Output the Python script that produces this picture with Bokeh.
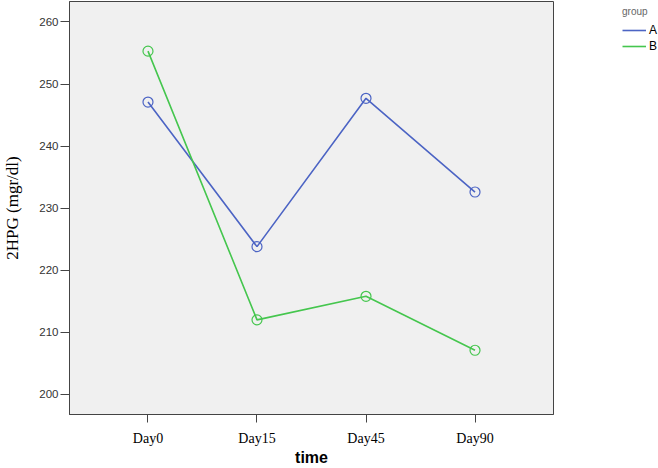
from bokeh.plotting import figure
from bokeh.layouts import row
from bokeh.models import FactorRange, Range1d, FixedTicker, Legend, LegendItem
from bokeh.embed import file_html
from bokeh.resources import INLINE

days = ["Day0", "Day15", "Day45", "Day90"]
group_a = [247.1, 223.8, 247.7, 232.6]
group_b = [255.3, 212.0, 215.8, 207.1]
y_ticks = [200, 210, 220, 230, 240, 250, 260]
groups = ["A", "B"]

blue = "#4c64c4"
green = "#45c64e"

p = figure(width=556, height=468, output_backend="svg", toolbar_location=None,
           x_range=FactorRange(factors=days, range_padding=0.11),
           y_range=Range1d(196.75, 263.3),
           min_border_left=69, min_border_right=3, min_border_top=1, min_border_bottom=51)

p.background_fill_color = "#f0f0f0"
p.border_fill_color = "white"
p.outline_line_color = "#444444"
p.outline_line_width = 1
p.xgrid.visible = False
p.ygrid.visible = False

p.line(days, group_a, line_color=blue, line_width=1.6)
p.scatter(days, group_a, marker="circle", size=10, fill_color=None, line_color=blue, line_width=1.2)
p.line(days, group_b, line_color=green, line_width=1.6)
p.scatter(days, group_b, marker="circle", size=10, fill_color=None, line_color=green, line_width=1.2)

p.yaxis.ticker = FixedTicker(ticks=y_ticks)
p.yaxis.minor_tick_line_color = None
p.yaxis.major_tick_out = 9
p.yaxis.major_tick_in = 0
p.yaxis.major_tick_line_color = "#444444"
p.yaxis.axis_line_color = "#444444"
p.yaxis.major_label_text_font = "Liberation Sans"
p.yaxis.major_label_text_font_size = "11.5px"
p.yaxis.major_label_text_color = "#333333"
p.yaxis.major_label_standoff = 2
p.yaxis.axis_label = "2HPG (mgr/dl)"
p.yaxis.axis_label_text_font = "Liberation Serif"
p.yaxis.axis_label_text_font_style = "normal"
p.yaxis.axis_label_text_font_size = "17px"
p.yaxis.axis_label_text_color = "black"
p.yaxis.axis_label_standoff = 14

p.xaxis.major_tick_out = 8
p.xaxis.major_tick_in = 0
p.xaxis.major_tick_line_color = "#444444"
p.xaxis.axis_line_color = "#444444"
p.xaxis.major_label_text_font = "Liberation Serif"
p.xaxis.major_label_text_font_size = "14px"
p.xaxis.major_label_text_color = "black"
p.xaxis.major_label_standoff = 8
p.xaxis.axis_label = "time"
p.xaxis.axis_label_text_font = "Liberation Sans"
p.xaxis.axis_label_text_font_style = "bold"
p.xaxis.axis_label_text_font_size = "16px"
p.xaxis.axis_label_text_color = "black"
p.xaxis.axis_label_standoff = 0

# legend panel (its lines use the same data but lie outside its view)
q = figure(width=102, height=468, output_backend="svg", toolbar_location=None,
           x_range=FactorRange(factors=days), y_range=Range1d(0, 1),
           x_axis_type=None, y_axis_type=None, min_border=0)
q.outline_line_color = None
q.xgrid.visible = False
q.ygrid.visible = False
ka = q.line(days, group_a, line_color=blue, line_width=1.6)
kb = q.line(days, group_b, line_color=green, line_width=1.6)

legend = Legend(items=[LegendItem(label=groups[0], renderers=[ka]), LegendItem(label=groups[1], renderers=[kb])],
                location=(66, 360), title="group",
                title_text_font="Liberation Sans", title_text_font_size="10px",
                title_text_font_style="normal", title_text_color="#666666", title_standoff=5,
                label_text_font="Liberation Sans", label_text_font_size="12px", label_text_color="black",
                glyph_width=24, glyph_height=16, label_height=16, label_standoff=3,
                spacing=0, padding=0, margin=0,
                background_fill_alpha=0, border_line_alpha=0)
q.add_layout(legend, "center")

layout = row(p, q, spacing=0)
open("out.html", "w").write(file_html(layout, INLINE))
